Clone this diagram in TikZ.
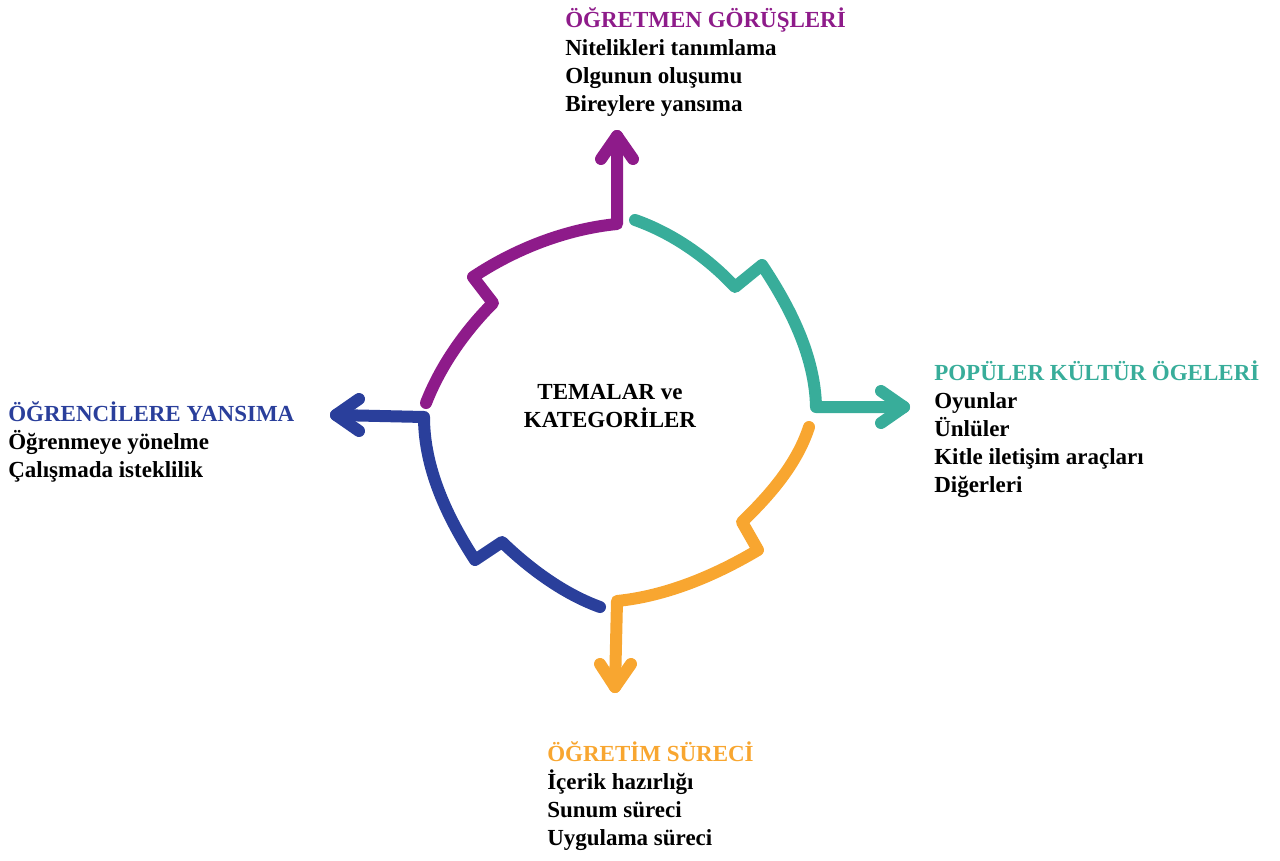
\documentclass[tikz,border=0pt]{standalone}
\usepackage{fontspec}
\setmainfont{Liberation Serif}
\definecolor{cpurple}{HTML}{8E1B8A}
\definecolor{cteal}{HTML}{38AD9A}
\definecolor{corange}{HTML}{F8A630}
\definecolor{cblue}{HTML}{2A3F9B}
\begin{document}
\begin{tikzpicture}[x=0.75pt,y=-0.75pt,
  flow/.style={line width=9pt,line cap=round,line join=round},
  txt/.style={font=\fontsize{17.25}{21}\selectfont\bfseries,inner sep=0pt,anchor=base west},
  ctxt/.style={font=\fontsize{17.25}{21}\selectfont\bfseries,inner sep=0pt,anchor=base}]
\useasboundingbox (0,0) rectangle (1280,860);

% ---------- purple (top) ----------
\coordinate (pA) at (426,403);
\coordinate (pB) at (493,303);
\coordinate (pN) at (473,277);
\coordinate (pD) at (617,224);
\coordinate (pT) at (617,136);
\coordinate (pW1) at (601,159);
\coordinate (pW2) at (633,159);
\draw[flow,cpurple] (pA) .. controls (440,367) and (464,332) .. (pB) -- (pN)
  .. controls (515,249) and (566,229) .. (pD) -- (pT);
\draw[flow,cpurple] (pW1) -- (pT) -- (pW2);

% ---------- teal (right) ----------
\coordinate (tS) at (635,220);
\coordinate (t1) at (735,287);
\coordinate (t2) at (762,265);
\coordinate (tE) at (816,407);
\coordinate (tT) at (904,407);
\coordinate (tW1) at (881,391);
\coordinate (tW2) at (881,423);
\draw[flow,cteal] (tS) .. controls (672,233) and (707,257) .. (t1) -- (t2)
  .. controls (790,307) and (815,356) .. (tE) -- (tT);
\draw[flow,cteal] (tW1) -- (tT) -- (tW2);

% ---------- orange (bottom) ----------
\coordinate (oS) at (809,427);
\coordinate (o1) at (742,522);
\coordinate (o2) at (758,550);
\coordinate (oF) at (617,601);
\coordinate (oT) at (615,687);
\coordinate (oW1) at (600,664);
\coordinate (oW2) at (631,664);
\draw[flow,corange] (oS) .. controls (797,464) and (770,495) .. (o1) -- (o2)
  .. controls (716,575) and (667,596) .. (oF) -- (oT);
\draw[flow,corange] (oW1) -- (oT) -- (oW2);

% ---------- blue (left) ----------
\coordinate (bS) at (600,607);
\coordinate (b1) at (502,542);
\coordinate (b2) at (475,560);
\coordinate (bG) at (424,417);
\coordinate (bT) at (336,415);
\coordinate (bW1) at (359,399);
\coordinate (bW2) at (359,431);
\draw[flow,cblue] (bS) .. controls (564,594) and (530,569) .. (b1) -- (b2)
  .. controls (447,517) and (424,468) .. (bG) -- (bT);
\draw[flow,cblue] (bW1) -- (bT) -- (bW2);

% ---------- center ----------
\node[ctxt] (c1) at (610,399) {TEMALAR ve};
\node[ctxt] (c2) at (610,427) {KATEGORİLER};

% ---------- top text ----------
\node[txt,text=cpurple] (h1) at (565,27) {ÖĞRETMEN GÖRÜŞLERİ};
\node[txt] (h1a) at (565,55) {Nitelikleri tanımlama};
\node[txt] (h1b) at (565,83) {Olgunun oluşumu};
\node[txt] (h1c) at (565,111) {Bireylere yansıma};

% ---------- right text ----------
\node[txt,text=cteal] (h2) at (934,380) {POPÜLER KÜLTÜR ÖGELERİ};
\node[txt] (h2a) at (934,408) {Oyunlar};
\node[txt] (h2b) at (934,436) {Ünlüler};
\node[txt] (h2c) at (934,464) {Kitle iletişim araçları};
\node[txt] (h2d) at (934,492) {Diğerleri};

% ---------- left text ----------
\node[txt,text=cblue] (h3) at (8,421) {ÖĞRENCİLERE YANSIMA};
\node[txt] (h3a) at (8,449) {Öğrenmeye yönelme};
\node[txt] (h3b) at (8,477) {Çalışmada isteklilik};

% ---------- bottom text ----------
\node[txt,text=corange] (h4) at (547,761) {ÖĞRETİM SÜRECİ};
\node[txt] (h4a) at (547,789) {İçerik hazırlığı};
\node[txt] (h4b) at (547,817) {Sunum süreci};
\node[txt] (h4c) at (547,845) {Uygulama süreci};
\end{tikzpicture}
\end{document}
